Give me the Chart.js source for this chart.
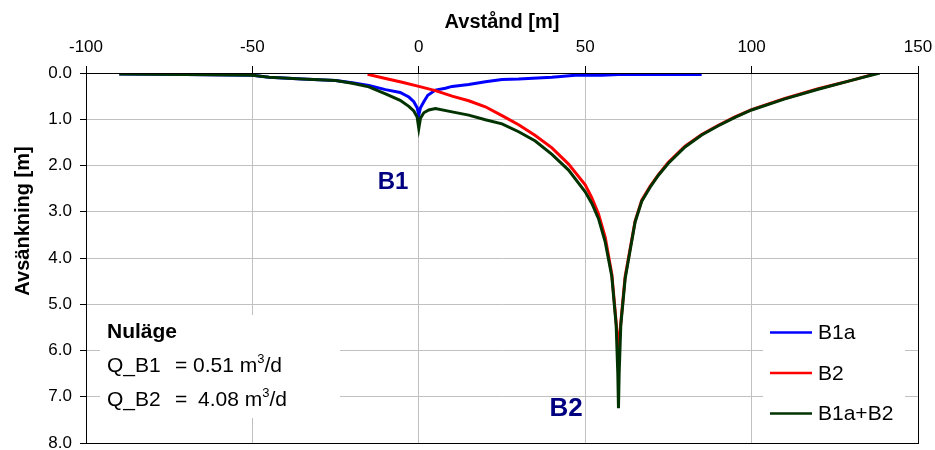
<!DOCTYPE html>
<html>
<head>
<meta charset="utf-8">
<script src="https://cdn.jsdelivr.net/npm/chart.js@4.4.0/dist/chart.umd.min.js"></script>
<style>
  html, body { margin: 0; padding: 0; background: #fff; }
  #wrap { width: 935px; height: 450px; }
</style>
</head>
<body>
<div id="wrap"><canvas id="chart" width="935" height="450"></canvas></div>
<script>
// tick labels
const xTicks = [-100, -50, 0, 50, 100, 150];
const yTicks = [0, 1, 2, 3, 4, 5, 6, 7, 8];

// B1a
const b1aX = [-90, -70, -50, -45, -35, -25, -20, -15, -10, -5.6, -3, -1.5, -0.5, 0, 0.5, 1.5, 2.7, 5, 8, 10, 15, 20, 25, 30, 40, 47, 55, 60, 70, 85];
const b1aY = [0.02, 0.03, 0.05, 0.09, 0.13, 0.16, 0.21, 0.27, 0.36, 0.42, 0.52, 0.62, 0.75, 0.91, 0.75, 0.62, 0.48, 0.37, 0.33, 0.29, 0.25, 0.19, 0.14, 0.13, 0.09, 0.05, 0.05, 0.03, 0.03, 0.03];

// B2
const b2X = [-15.4, -10, -5, 0, 5, 10, 15, 20, 25, 30, 35, 40, 45, 50, 52, 54, 56, 58, 59.3, 60, 60.7, 62, 63.5, 65, 67, 69.5, 72, 75, 80, 85, 90, 95, 100, 110, 120, 130, 137];
const b2Y = [0.03, 0.12, 0.2, 0.29, 0.38, 0.5, 0.6, 0.73, 0.92, 1.12, 1.35, 1.62, 1.97, 2.42, 2.7, 3.05, 3.55, 4.35, 5.4, 6.0, 5.4, 4.4, 3.8, 3.2, 2.75, 2.45, 2.2, 1.93, 1.58, 1.33, 1.13, 0.95, 0.79, 0.55, 0.34, 0.16, 0.02];

// B1a+B2
const sumX = [-90, -70, -50, -45, -35, -25, -20, -15, -10, -5.6, -3, -1.5, -0.5, 0, 0.5, 1.5, 3, 5, 10, 15, 20, 25, 30, 35, 40, 45, 50, 52, 54, 56, 58, 59.3, 59.8, 60, 60.2, 60.7, 62, 63.5, 65, 67, 69.5, 72, 75, 80, 85, 90, 95, 100, 110, 120, 130, 138.5];
const sumY = [0.02, 0.03, 0.05, 0.09, 0.13, 0.16, 0.22, 0.3, 0.45, 0.59, 0.72, 0.82, 0.95, 1.2, 0.98, 0.86, 0.8, 0.77, 0.84, 0.91, 1.01, 1.1, 1.27, 1.47, 1.76, 2.1, 2.57, 2.82, 3.15, 3.65, 4.4, 5.45, 6.5, 7.25, 6.5, 5.45, 4.45, 3.83, 3.22, 2.77, 2.47, 2.21, 1.95, 1.6, 1.34, 1.14, 0.96, 0.8, 0.56, 0.35, 0.16, 0.0];

const seriesNames = ['B1a', 'B2', 'B1a+B2'];
const seriesColors = ['#0000ff', '#ff0000', '#003300'];

const FONT = '"Liberation Sans", Arial, sans-serif';

function pts(xs, ys) {
    return xs.map((x, i) => ({ x: x, y: ys[i] }));
}

// ram, y-titel, textruta, förklaring och brunnsetiketter
const extras = {
    id: 'extras',
    afterDatasetsDraw(chart) {
        const ctx = chart.ctx;
        const a = chart.chartArea;
        ctx.save();

        // y-axelns titel
        ctx.save();
        ctx.translate(23, 221);
        ctx.rotate(-Math.PI / 2);
        ctx.fillStyle = '#000';
        ctx.font = 'bold 20px ' + FONT;
        ctx.textAlign = 'center';
        ctx.textBaseline = 'middle';
        ctx.fillText('Avsänkning [m]', 0, 0);
        ctx.restore();

        // textruta
        ctx.fillStyle = '#fff';
        ctx.fillRect(100, 315, 240, 103);
        ctx.fillStyle = '#000';
        ctx.textBaseline = 'alphabetic';
        ctx.textAlign = 'left';
        ctx.font = 'bold 21px ' + FONT;
        ctx.fillText('Nuläge', 107, 338);
        const rows = [['Q_B1', '0.51 m', 193, 372], ['Q_B2', '4.08 m', 198, 406]];
        rows.forEach(r => {
            ctx.font = '21px ' + FONT;
            ctx.fillText(r[0], 107, r[3]);
            ctx.fillText('=', 175, r[3]);
            ctx.fillText(r[1], r[2], r[3]);
            let x = r[2] + ctx.measureText(r[1]).width;
            ctx.font = '13px ' + FONT;
            ctx.fillText('3', x, r[3] - 9);
            x += ctx.measureText('3').width;
            ctx.font = '21px ' + FONT;
            ctx.fillText('/d', x, r[3]);
        });

        // förklaring
        ctx.fillStyle = '#fff';
        ctx.fillRect(763, 310, 142, a.bottom - 310);
        ctx.font = '21px ' + FONT;
        ctx.textBaseline = 'middle';
        seriesNames.forEach((n, i) => {
            const y = 332.5 + i * 40.5;
            ctx.strokeStyle = seriesColors[i];
            ctx.lineWidth = 2.5;
            ctx.beginPath();
            ctx.moveTo(770, y);
            ctx.lineTo(812, y);
            ctx.stroke();
            ctx.fillStyle = '#000';
            ctx.fillText(n, 818, y + 1);
        });

        // brunnar
        ctx.fillStyle = '#000080';
        ctx.textAlign = 'center';
        ctx.textBaseline = 'middle';
        ctx.font = 'bold 24px ' + FONT;
        ctx.fillText('B1', 393, 182);
        ctx.font = 'bold 26px ' + FONT;
        ctx.fillText('B2', 566, 409);

        // ram runt diagramytan
        ctx.strokeStyle = '#000';
        ctx.lineWidth = 1;
        ctx.strokeRect(Math.round(a.left) + 0.5, Math.round(a.top) + 0.5,
            Math.round(a.right - a.left), Math.round(a.bottom - a.top));
        ctx.restore();
    }
};

Chart.defaults.animation = false;
Chart.defaults.color = '#000';
Chart.defaults.font.family = FONT;

new Chart(document.getElementById('chart').getContext('2d'), {
    type: 'scatter',
    data: {
        datasets: [
            { label: seriesNames[0], data: pts(b1aX, b1aY), borderColor: seriesColors[0], order: 3 },
            { label: seriesNames[1], data: pts(b2X, b2Y), borderColor: seriesColors[1], order: 2 },
            { label: seriesNames[2], data: pts(sumX, sumY), borderColor: seriesColors[2], order: 1 }
        ].map(d => Object.assign(d, { showLine: true, borderWidth: 3, pointRadius: 0, tension: 0, fill: false }))
    },
    options: {
        responsive: false,
        layout: { padding: { left: 0, right: 17, top: 0, bottom: 7 } },
        plugins: { legend: { display: false }, tooltip: { enabled: false } },
        scales: {
            x: {
                type: 'linear',
                position: 'top',
                min: -100,
                max: 150,
                afterBuildTicks: s => { s.ticks = xTicks.map(v => ({ value: v })); },
                afterFit: s => { s.height = 73; s.paddingLeft = 0; s.paddingRight = 0; },
                ticks: { font: { size: 17 }, padding: 8, callback: v => String(v) },
                grid: { color: '#c0c0c0', tickColor: '#000', tickLength: 7 },
                border: { color: '#000' },
                title: { display: true, text: 'Avstånd [m]', font: { size: 20, weight: 'bold' }, padding: { top: 10, bottom: 0 } }
            },
            y: {
                type: 'linear',
                reverse: true,
                min: 0,
                max: 8,
                afterBuildTicks: s => { s.ticks = yTicks.map(v => ({ value: v })); },
                afterFit: s => { s.width = 86; s.paddingTop = 0; s.paddingBottom = 0; },
                ticks: { font: { size: 17 }, padding: 8, callback: v => v.toFixed(1) },
                grid: { color: '#c0c0c0', tickColor: '#000', tickLength: 6 },
                border: { color: '#000' },
                title: { display: false }
            }
        }
    },
    plugins: [extras]
});
</script>
</body>
</html>
